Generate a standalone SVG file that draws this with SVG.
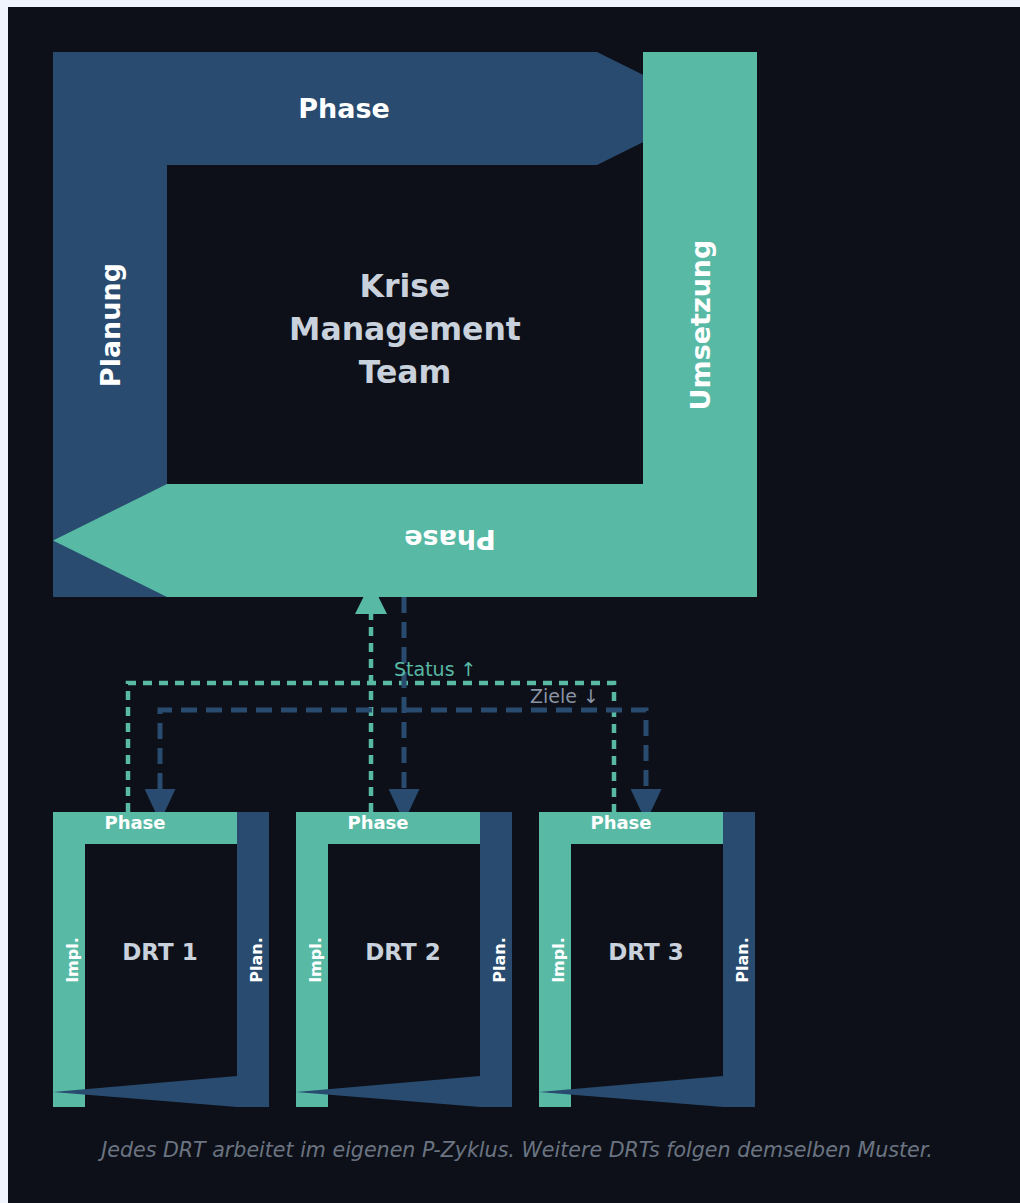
<svg xmlns="http://www.w3.org/2000/svg" xmlns:xlink="http://www.w3.org/1999/xlink" width="1020" height="1203" viewBox="0 0 1020 1203">
  <style>
    .blue { fill: #284b6f; }
    .teal { fill: #58b9a5; }
    .lbl { font-family: "DejaVu Sans", Verdana, sans-serif; font-weight: bold; fill: #ffffff; text-anchor: middle; }
    .title { font-family: "DejaVu Sans", Verdana, sans-serif; font-weight: bold; fill: #c9d1dc; text-anchor: middle; }
    .status { fill: none; stroke: #58b9a5; stroke-width: 4.5; stroke-dasharray: 9 7; }
    .goals { fill: none; stroke: #284b6f; stroke-width: 5; stroke-dasharray: 16 9; }
    .note { font-family: "DejaVu Sans", Verdana, sans-serif; font-size: 19px; }
  </style>
  <defs>
    <marker id="arrowGoal" markerUnits="userSpaceOnUse" viewBox="0 0 33 31" refX="0" refY="15.5" markerWidth="33" markerHeight="31" orient="auto-start-reverse">
      <path d="M0,0 L33,15.5 L0,31 Z" fill="#284b6f"/>
    </marker>
    <marker id="arrowStatus" markerUnits="userSpaceOnUse" viewBox="0 0 32 32" refX="0" refY="16" markerWidth="32" markerHeight="32" orient="auto">
      <path d="M0,0 L32,16 L0,32 Z" fill="#58b9a5"/>
    </marker>
    <!-- small P-cycle frame used by every DRT -->
    <g id="drtFrame">
      <rect class="teal" x="0" y="0" width="32" height="295"/>
      <rect class="teal" x="32" y="0" width="152" height="32"/>
      <rect class="blue" x="184" y="0" width="32" height="295"/>
      <polygon class="blue" points="0,280 184,264 184,295"/>
    </g>
  </defs>

  <!-- page -->
  <rect x="0" y="0" width="1020" height="1203" fill="#f0f4fc"/>
  <rect x="8" y="7" width="1012" height="1196" fill="#0d1018"/>

  <!-- connectors: status reports up, goals down (drawn beneath the cycles) -->
  <g id="connectors">
    <path class="status" d="M128,812 V683 H614 V812"/>
    <path class="status" d="M371,812 V614" marker-end="url(#arrowStatus)"/>
    <path class="goals" d="M404,597 V789" marker-end="url(#arrowGoal)"/>
    <path class="goals" d="M160,789 V710 H646 V789" marker-start="url(#arrowGoal)" marker-end="url(#arrowGoal)"/>
    <text class="note" x="394" y="676" fill="#58b9a5">Status ↑</text>
    <text class="note" x="530" y="703" fill="#8a93a3">Ziele ↓</text>
  </g>

  <!-- crisis management team cycle -->
  <g id="kmt">
    <rect class="blue" x="53" y="52" width="114" height="545"/>
    <polygon class="blue" points="53,52 597,52 711,108.5 597,165 53,165"/>
    <rect class="teal" x="643" y="52" width="114" height="545"/>
    <polygon class="teal" points="757,484 167,484 53,540.5 167,597 757,597"/>
    <text class="lbl" x="344" y="118" font-size="27">Phase</text>
    <text class="lbl" x="450" y="550" font-size="27" transform="rotate(180 450 540)">Phase</text>
    <text class="lbl" x="110" y="335" font-size="27" transform="rotate(-90 110 325)">Planung</text>
    <text class="lbl" x="700" y="335" font-size="27" transform="rotate(-90 700 325)">Umsetzung</text>
    <text class="title" x="405" y="297" font-size="31.5">Krise</text>
    <text class="title" x="405" y="340" font-size="31.5">Management</text>
    <text class="title" x="405" y="383" font-size="31.5">Team</text>
  </g>

  <!-- disaster response teams -->
  <g id="drt1">
    <use xlink:href="#drtFrame" x="53" y="812"/>
    <text class="lbl" x="135" y="828.5" font-size="18">Phase</text>
    <text class="lbl" x="72" y="965.5" font-size="16" transform="rotate(-90 72 960)">Impl.</text>
    <text class="lbl" x="256" y="965.5" font-size="16" transform="rotate(-90 256 960)">Plan.</text>
    <text class="title" x="160" y="960" font-size="23">DRT 1</text>
  </g>
  <g id="drt2">
    <use xlink:href="#drtFrame" x="296" y="812"/>
    <text class="lbl" x="378" y="828.5" font-size="18">Phase</text>
    <text class="lbl" x="315" y="965.5" font-size="16" transform="rotate(-90 315 960)">Impl.</text>
    <text class="lbl" x="499" y="965.5" font-size="16" transform="rotate(-90 499 960)">Plan.</text>
    <text class="title" x="403" y="960" font-size="23">DRT 2</text>
  </g>
  <g id="drt3">
    <use xlink:href="#drtFrame" x="539" y="812"/>
    <text class="lbl" x="621" y="828.5" font-size="18">Phase</text>
    <text class="lbl" x="558" y="965.5" font-size="16" transform="rotate(-90 558 960)">Impl.</text>
    <text class="lbl" x="742" y="965.5" font-size="16" transform="rotate(-90 742 960)">Plan.</text>
    <text class="title" x="646" y="960" font-size="23">DRT 3</text>
  </g>

  <text x="517" y="1157" font-family="DejaVu Sans, Verdana, sans-serif" font-style="italic" font-size="20.6" fill="#6b7482" text-anchor="middle">Jedes DRT arbeitet im eigenen P-Zyklus. Weitere DRTs folgen demselben Muster.</text>
</svg>
